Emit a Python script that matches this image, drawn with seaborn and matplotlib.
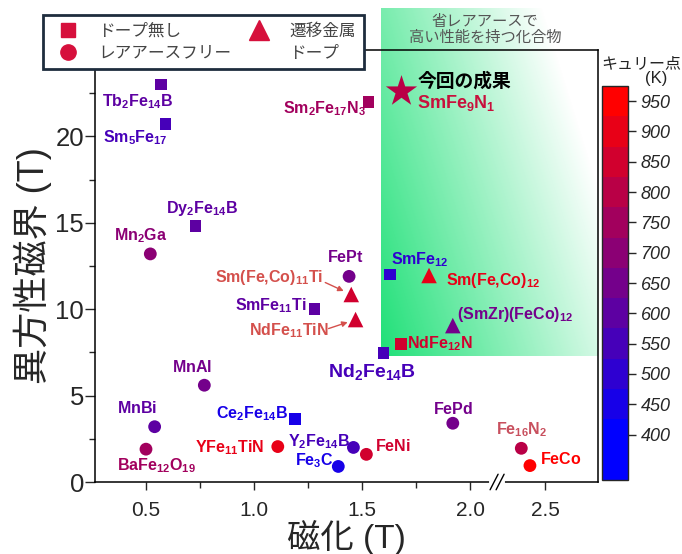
import numpy as np
import pandas as pd
import matplotlib
matplotlib.use("Agg")
import matplotlib.pyplot as plt
import seaborn as sns
from matplotlib.colors import ListedColormap, Normalize
from matplotlib.lines import Line2D
from matplotlib.cm import ScalarMappable

# ---------------------------
# data
# ---------------------------
names = ["Tb2Fe14B", "Sm5Fe17", "Sm2Fe17N3", "Dy2Fe14B", "Mn2Ga", "FePt",
         "Sm(Fe,Co)11Ti", "SmFe11Ti", "NdFe11TiN", "SmFe12", "Sm(Fe,Co)12",
         "(SmZr)(FeCo)12", "NdFe12N", "Nd2Fe14B", "MnAl", "MnBi", "BaFe12O19",
         "Ce2Fe14B", "YFe11TiN", "Y2Fe14B", "Fe3C", "FeNi", "FePd", "Fe16N2", "FeCo"]
labels = [r"$\mathbf{Tb_2Fe_{14}B}$", r"$\mathbf{Sm_5Fe_{17}}$", r"$\mathbf{Sm_2Fe_{17}N_3}$",
          r"$\mathbf{Dy_2Fe_{14}B}$", r"$\mathbf{Mn_2Ga}$", r"$\mathbf{FePt}$",
          r"$\mathbf{Sm(Fe{,}Co)_{11}Ti}$", r"$\mathbf{SmFe_{11}Ti}$", r"$\mathbf{NdFe_{11}TiN}$",
          r"$\mathbf{SmFe_{12}}$", r"$\mathbf{Sm(Fe{,}Co)_{12}}$", r"$\mathbf{(SmZr)(FeCo)_{12}}$",
          r"$\mathbf{NdFe_{12}N}$", r"$\mathbf{Nd_2Fe_{14}B}$", r"$\mathbf{MnAl}$", r"$\mathbf{MnBi}$",
          r"$\mathbf{BaFe_{12}O_{19}}$", r"$\mathbf{Ce_2Fe_{14}B}$", r"$\mathbf{YFe_{11}TiN}$",
          r"$\mathbf{Y_2Fe_{14}B}$", r"$\mathbf{Fe_3C}$", r"$\mathbf{FeNi}$", r"$\mathbf{FePd}$",
          r"$\mathbf{Fe_{16}N_2}$", r"$\mathbf{FeCo}$"]
magnetization = [0.57, 0.59, 1.53, 0.73, 0.52, 1.44, 1.45, 1.28, 1.47, 1.63, 1.81,
                 1.92, 1.68, 1.60, 0.77, 0.54, 0.50, 1.19, 1.11, 1.46, 1.39, 1.52, 1.92, 2.39, 2.43]
aniso_field = [23.0, 20.7, 22.0, 14.8, 13.2, 11.9, 10.85, 10.0, 9.4, 12.0, 11.95,
               9.05, 8.0, 7.45, 5.6, 3.2, 1.9, 3.65, 2.05, 2.0, 0.9, 1.6, 3.4, 1.95, 0.95]
curie_k = [610, 560, 740, 590, 710, 660, 860, 590, 840, 510, 900,
           660, 850, 570, 650, 620, 740, 440, 920, 560, 460, 830, 660, 810, 960]
kinds = ["sq", "sq", "sq", "sq", "ci", "ci", "tri", "sq", "tri", "sq", "tri",
         "tri", "sq", "sq", "ci", "ci", "ci", "sq", "ci", "ci", "ci", "ci", "ci", "ci", "ci"]

# this work
star_m, star_h, star_tc = 1.68, 22.6, 780

cbar_ticks = list(range(400, 1000, 50))

# ---------------------------
# layout helpers
# ---------------------------
W, H = 682, 554
BREAK_LO, BREAK_HI = 2.125, 2.278   # broken x axis: 2.125..2.278 is cut out
SHIFT = BREAK_HI - BREAK_LO

def to_plot_x(v):
    v = np.asarray(v, dtype=float)
    return np.where(v > BREAK_LO, v - SHIFT, v)

# label offsets in pixels (dx, dy), some label colours differ from marker
offsets = {
    "Tb2Fe14B": (-24, -17), "Sm5Fe17": (-30, -13), "Sm2Fe17N3": (-44, -7),
    "Dy2Fe14B": (6, 18), "Mn2Ga": (-10, 18), "FePt": (-4, 19),
    "Sm(Fe,Co)11Ti": (-82, 17), "SmFe11Ti": (-44, 4), "NdFe11TiN": (-67, -11),
    "SmFe12": (30, 15), "Sm(Fe,Co)12": (64, -5), "(SmZr)(FeCo)12": (62, 11),
    "NdFe12N": (39, 0), "Nd2Fe14B": (-12, -19), "MnAl": (-12, 18), "MnBi": (-18, 19),
    "BaFe12O19": (10, -16), "Ce2Fe14B": (-43, 5), "YFe11TiN": (-48, -1),
    "Y2Fe14B": (-34, 6), "Fe3C": (-24, 6), "FeNi": (26, 8), "FePd": (0, 14),
    "Fe16N2": (0, 19), "FeCo": (31, 7),
}
label_color_override = {"Sm(Fe,Co)11Ti": "#d4504c", "NdFe11TiN": "#d4504c", "Fe16N2": "#c8505e"}

# ---------------------------
# style
# ---------------------------
sns.set_style("ticks")
plt.rcParams["font.family"] = ["Liberation Sans", "Noto Sans CJK JP"]
plt.rcParams["mathtext.fontset"] = "custom"
plt.rcParams["mathtext.rm"] = "Liberation Sans"
plt.rcParams["mathtext.bf"] = "Liberation Sans:bold"
plt.rcParams["mathtext.it"] = "Liberation Sans:italic"

# discrete blue -> red colormap for Curie temperature
centers = np.arange(350, 1000, 50)
t = np.clip((centers - 400) / 550.0, 0, 1)
cmap = ListedColormap(np.column_stack([t, np.zeros_like(t), 1 - t]))
norm = Normalize(vmin=325, vmax=975)

df = pd.DataFrame({"name": names, "label": labels, "m": magnetization,
                   "hk": aniso_field, "tc": curie_k, "kind": kinds})
df["xp"] = to_plot_x(df["m"])

fig = plt.figure(figsize=(W / 100, H / 100), dpi=100)
ax = fig.add_axes([95 / W, 1 - 482 / H, (598 - 95) / W, (482 - 50) / H])

xlim = (0.264, 2.745 - SHIFT)
ylim = (0, 25)

# green "rare-earth saving" region with gradient
nx, ny = 200, 200
u = np.linspace(0, 1, nx)[None, :]
v = np.linspace(0, 1, ny)[:, None]
alpha = np.clip(1 - 0.8 * u - 0.4 * v, 0, 1)
rgba = np.zeros((ny, nx, 4))
rgba[..., 0], rgba[..., 1], rgba[..., 2] = 0.12, 0.88, 0.47
rgba[..., 3] = alpha
ax.imshow(rgba, origin="lower", extent=(1.588, xlim[1], 7.3, 27.4), aspect="auto",
          clip_on=False, zorder=0, interpolation="bilinear")

sns.scatterplot(data=df, x="xp", y="hk", hue="tc", hue_norm=norm, palette=cmap,
                style="kind", markers={"sq": "s", "ci": "o", "tri": "^"},
                size="kind", sizes={"sq": 70, "ci": 85, "tri": 125},
                linewidth=0, legend=False, ax=ax, zorder=3)
ax.scatter(to_plot_x([star_m]), [star_h], marker="*", s=560, c=[cmap(norm(star_tc))],
           linewidths=0, zorder=3)

for _, r in df.iterrows():
    col = label_color_override.get(r["name"], cmap(norm(r["tc"])))
    dx, dy = offsets[r["name"]]
    fs = 14 if r["name"] == "Nd2Fe14B" else 11.5
    ax.annotate(r["label"], xy=(r["xp"], r["hk"]), xytext=(dx, dy), textcoords="offset pixels",
                ha="center", va="center", fontsize=fs, color=col, zorder=4)

# arrows for the two Ti compounds
for nm, start in [("Sm(Fe,Co)11Ti", (-26, 12)), ("NdFe11TiN", (-27, -9))]:
    r = df[df["name"] == nm].iloc[0]
    ax.annotate("", xy=(r["xp"], r["hk"]), xytext=start, textcoords="offset pixels",
                arrowprops=dict(arrowstyle="-|>", color="#d4504c", lw=1, shrinkA=0, shrinkB=6,
                                mutation_scale=8), zorder=4)

# this work
ax.annotate("今回の成果", xy=(to_plot_x(star_m), star_h), xytext=(63, 10), textcoords="offset pixels",
            ha="center", va="center", fontsize=13.5, fontweight="bold", color="black", zorder=4)
ax.annotate(r"$\mathbf{SmFe_9N_1}$", xy=(to_plot_x(star_m), star_h), xytext=(55, -12),
            textcoords="offset pixels", ha="center", va="center", fontsize=13,
            color="#c8103c", zorder=4)

# axes
ax.set_xlim(*xlim)
ax.set_ylim(*ylim)
ax.set_xticks([0.5, 1.0, 1.5, 2.0, 2.5 - SHIFT])
ax.set_xticklabels(["0.5", "1.0", "1.5", "2.0", "2.5"])
ax.set_xticks([0.75, 1.25, 1.75], minor=True)
ax.set_yticks([0, 5, 10, 15, 20])
ax.set_yticks([2.5, 7.5, 12.5, 17.5, 22.5], minor=True)
ax.tick_params(axis="x", which="major", labelsize=15, length=6, width=1, pad=8)
ax.tick_params(axis="y", which="major", labelsize=18.5, length=7, width=1, pad=1)
ax.tick_params(which="minor", length=4, width=1)
ax.set_xlabel("磁化 (T)", fontsize=24, labelpad=0)
ax.set_ylabel("異方性磁界 (T)", fontsize=26, labelpad=2)
for sp in ax.spines.values():
    sp.set_visible(True)
    sp.set_linewidth(1.1)
    sp.set_color("black")

# axis break marks
trans = ax.get_xaxis_transform()
px = 1 / 216.0
ax.plot([BREAK_LO - 6 * px, BREAK_LO + 6 * px], [0, 0], color="white", lw=3,
        transform=trans, clip_on=False, zorder=5)
for off in (-3, 3):
    ax.plot([BREAK_LO + (off - 4) * px, BREAK_LO + (off + 4) * px], [-0.018, 0.018],
            color="black", lw=1, transform=trans, clip_on=False, zorder=6)

# legend
leg_col = "#d6103c"
handles = [Line2D([], [], ls="none", marker="s", ms=10, color=leg_col),
           Line2D([], [], ls="none", marker="o", ms=11, color=leg_col),
           Line2D([], [], ls="none", marker="^", ms=14, color=leg_col),
           Line2D([], [], ls="none")]
leg = ax.legend(handles, ["ドープ無し", "レアアースフリー", "遷移金属", "ドープ"], ncol=2,
                loc="upper left", bbox_to_anchor=(43 / W, 1 - 15 / H), bbox_transform=fig.transFigure,
                frameon=True, fancybox=False, edgecolor="#1e2d3d", framealpha=1, fontsize=12,
                labelcolor="#444444", handlelength=2.0, handletextpad=0.8, columnspacing=0.7,
                borderpad=0.5, labelspacing=0.4, borderaxespad=0)
leg.get_frame().set_linewidth(2)
leg.set_zorder(10)

fig.text(485 / W, 1 - 30 / H, "省レアアースで\n高い性能を持つ化合物", ha="center", va="center",
         fontsize=11, color="#555555", style="italic", linespacing=1.15)

# colorbar
cax = fig.add_axes([602 / W, 1 - 480 / H, 26 / W, (480 - 86) / H])
cb = fig.colorbar(ScalarMappable(norm=norm, cmap=cmap), cax=cax, ticks=cbar_ticks)
cb.outline.set_linewidth(1)
cax.tick_params(labelsize=13, length=6, width=1, pad=3, direction="out")
for lab in cax.get_yticklabels():
    lab.set_style("italic")
cax.minorticks_off()
fig.text(641 / W, 1 - 64 / H, "キュリー点", ha="center", va="center", fontsize=11.5, color="#222222")
fig.text(656 / W, 1 - 79 / H, "(K)", ha="center", va="center", fontsize=12, color="#222222")

fig.savefig("out.png", dpi=100)
